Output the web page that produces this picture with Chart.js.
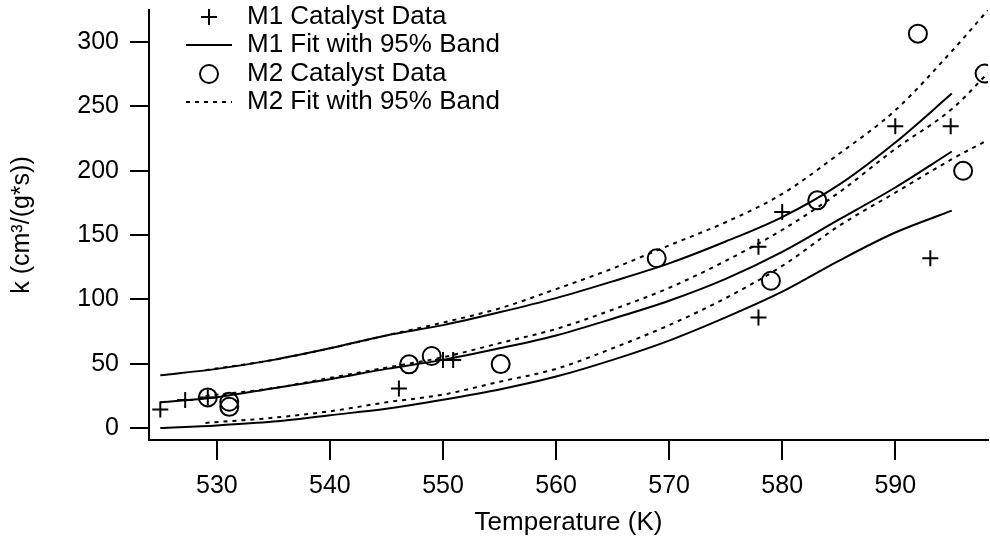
<!DOCTYPE html>
<html>
<head>
<meta charset="utf-8">
<script src="https://cdn.jsdelivr.net/npm/chart.js@4"></script>
<style>
  html, body { margin: 0; padding: 0; background: #fff; }
  canvas { display: block; }
</style>
</head>
<body>
<canvas id="chart" width="990" height="540"></canvas>
<script>
// Measured points (Temperature K, k)
const m1Temp = [525.0, 527.2, 529.2, 546.1, 550.0, 550.9, 577.9, 577.9, 580.0, 590.0, 593.1, 594.9];
const m1K    = [14.5, 21.8, 23.8, 30.8, 52.8, 52.8, 86, 140.9, 168, 234.7, 132, 234.7];
const m2Temp = [529.2, 531.1, 531.1, 547.0, 549.0, 555.1, 568.9, 579.0, 583.1, 592.0, 596.0, 597.9];
const m2K    = [23.8, 20.4, 16.5, 49.5, 56, 49.7, 132, 114.5, 177, 306.6, 200, 275.6];

// Fits with 95% bands
const m1FitTemp = [525, 530, 535, 540, 545, 550, 555, 560, 565, 570, 575, 580, 585, 590, 595];
const m1Upper   = [41, 46, 53, 62, 72, 80, 90, 101, 114, 128, 145, 164, 189, 222, 260];
const m1Fit     = [20, 24, 31, 38, 46, 53, 62, 72, 85, 99, 116, 137, 162, 187, 215];
const m1Lower   = [0, 2, 5, 10, 15, 22, 30, 40, 53, 68, 86, 106, 130, 152, 169];

const m2FitTemp = [529, 535, 540, 545, 550, 555, 560, 565, 570, 575, 580, 585, 590, 595, 598.2];
const m2Upper   = [45, 53, 62, 72, 82, 93, 108, 124, 142, 160, 182, 213, 247, 293, 325];
const m2Fit     = [25, 31, 39, 47, 55, 66, 77, 92, 109, 130, 154, 183, 217, 248, 276];
const m2Lower   = [4, 8, 13, 20, 26, 36, 46, 62, 80, 101, 126, 157, 183, 209, 224];

const xTicks = [530, 540, 550, 560, 570, 580, 590];
const yTicks = [0, 50, 100, 150, 200, 250, 300];

const legendLabels = ['M1 Catalyst Data', 'M1 Fit with 95% Band', 'M2 Catalyst Data', 'M2 Fit with 95% Band'];

const FONT = 'Liberation Sans, Arial, sans-serif';

const pts = (xs, ys) => xs.map((x, i) => ({ x: x, y: ys[i] }));

function fitLine(xs, ys, dashed) {
    return {
        data: pts(xs, ys),
        showLine: true,
        borderColor: '#000',
        borderWidth: 2,
        borderDash: dashed ? [4, 5] : [],
        pointRadius: 0,
        cubicInterpolationMode: 'monotone',
        fill: false
    };
}

// legend drawn inside the plot, top left
const legendPlugin = {
    id: 'insideLegend',
    afterDraw(chart) {
        const ctx = chart.ctx;
        const rowsY = [17, 45, 74, 102];
        const symX = 209, lineX0 = 186, lineX1 = 232, textX = 247;
        ctx.save();
        ctx.strokeStyle = '#000';
        ctx.fillStyle = '#000';
        ctx.lineWidth = 2;
        ctx.font = '26px ' + FONT;
        ctx.textBaseline = 'middle';
        rowsY.forEach((y, i) => {
            ctx.beginPath();
            if (i === 0) {
                ctx.moveTo(symX - 8, y); ctx.lineTo(symX + 8, y);
                ctx.moveTo(symX, y - 8); ctx.lineTo(symX, y + 8);
            } else if (i === 2) {
                ctx.arc(symX, y, 9, 0, Math.PI * 2);
            } else {
                ctx.setLineDash(i === 3 ? [4, 5] : []);
                ctx.moveTo(lineX0, y); ctx.lineTo(lineX1, y);
            }
            ctx.stroke();
            ctx.setLineDash([]);
            ctx.fillText(legendLabels[i], textX, y);
        });
        ctx.restore();
    }
};

const axisCommon = {
    type: 'linear',
    border: { color: '#000', width: 2 },
    grid: { drawOnChartArea: false, drawTicks: true, color: '#000', lineWidth: 2 },
    ticks: { color: '#000', font: { family: FONT, size: 25 }, includeBounds: false, maxRotation: 0 }
};

new Chart(document.getElementById('chart'), {
    type: 'scatter',
    data: {
        datasets: [
            {
                data: pts(m1Temp, m1K),
                pointStyle: 'cross',
                pointRadius: 8,
                borderColor: '#000',
                borderWidth: 2
            },
            {
                data: pts(m2Temp, m2K),
                pointStyle: 'circle',
                pointRadius: 9,
                borderColor: '#000',
                backgroundColor: 'rgba(0,0,0,0)',
                borderWidth: 2
            },
            fitLine(m1FitTemp, m1Upper, false),
            fitLine(m1FitTemp, m1Fit, false),
            fitLine(m1FitTemp, m1Lower, false),
            fitLine(m2FitTemp, m2Upper, true),
            fitLine(m2FitTemp, m2Fit, true),
            fitLine(m2FitTemp, m2Lower, true)
        ]
    },
    options: {
        responsive: false,
        animation: false,
        devicePixelRatio: 1,
        layout: { autoPadding: false, padding: { top: 10, right: 2, left: 0, bottom: 0 } },
        plugins: {
            legend: { display: false },
            tooltip: { enabled: false }
        },
        scales: {
            x: {
                ...axisCommon,
                position: 'bottom',
                min: 524,
                max: 598.2,
                grid: { ...axisCommon.grid, tickLength: 20 },
                ticks: { ...axisCommon.ticks, padding: 11 },
                afterBuildTicks: (scale) => { scale.ticks = xTicks.map(v => ({ value: v })); },
                afterFit: (scale) => {
                    scale.height = 100;
                    scale.paddingLeft = 0;
                    scale.paddingRight = 0;
                },
                title: {
                    display: true,
                    text: 'Temperature (K)',
                    color: '#000',
                    font: { family: FONT, size: 26 },
                    padding: { top: 0, bottom: 2 }
                }
            },
            y: {
                ...axisCommon,
                position: 'left',
                min: -9.3,
                max: 325,
                grid: { ...axisCommon.grid, tickLength: 19 },
                ticks: { ...axisCommon.ticks, padding: 11 },
                afterBuildTicks: (scale) => { scale.ticks = yTicks.map(v => ({ value: v })); },
                afterFit: (scale) => {
                    scale.width = 149;
                    scale.paddingTop = 0;
                    scale.paddingBottom = 0;
                },
                title: {
                    display: true,
                    text: 'k (cm³/(g*s))',
                    color: '#000',
                    font: { family: FONT, size: 25 },
                    padding: { top: 7, bottom: 0 }
                }
            }
        }
    },
    plugins: [legendPlugin]
});
</script>
</body>
</html>
